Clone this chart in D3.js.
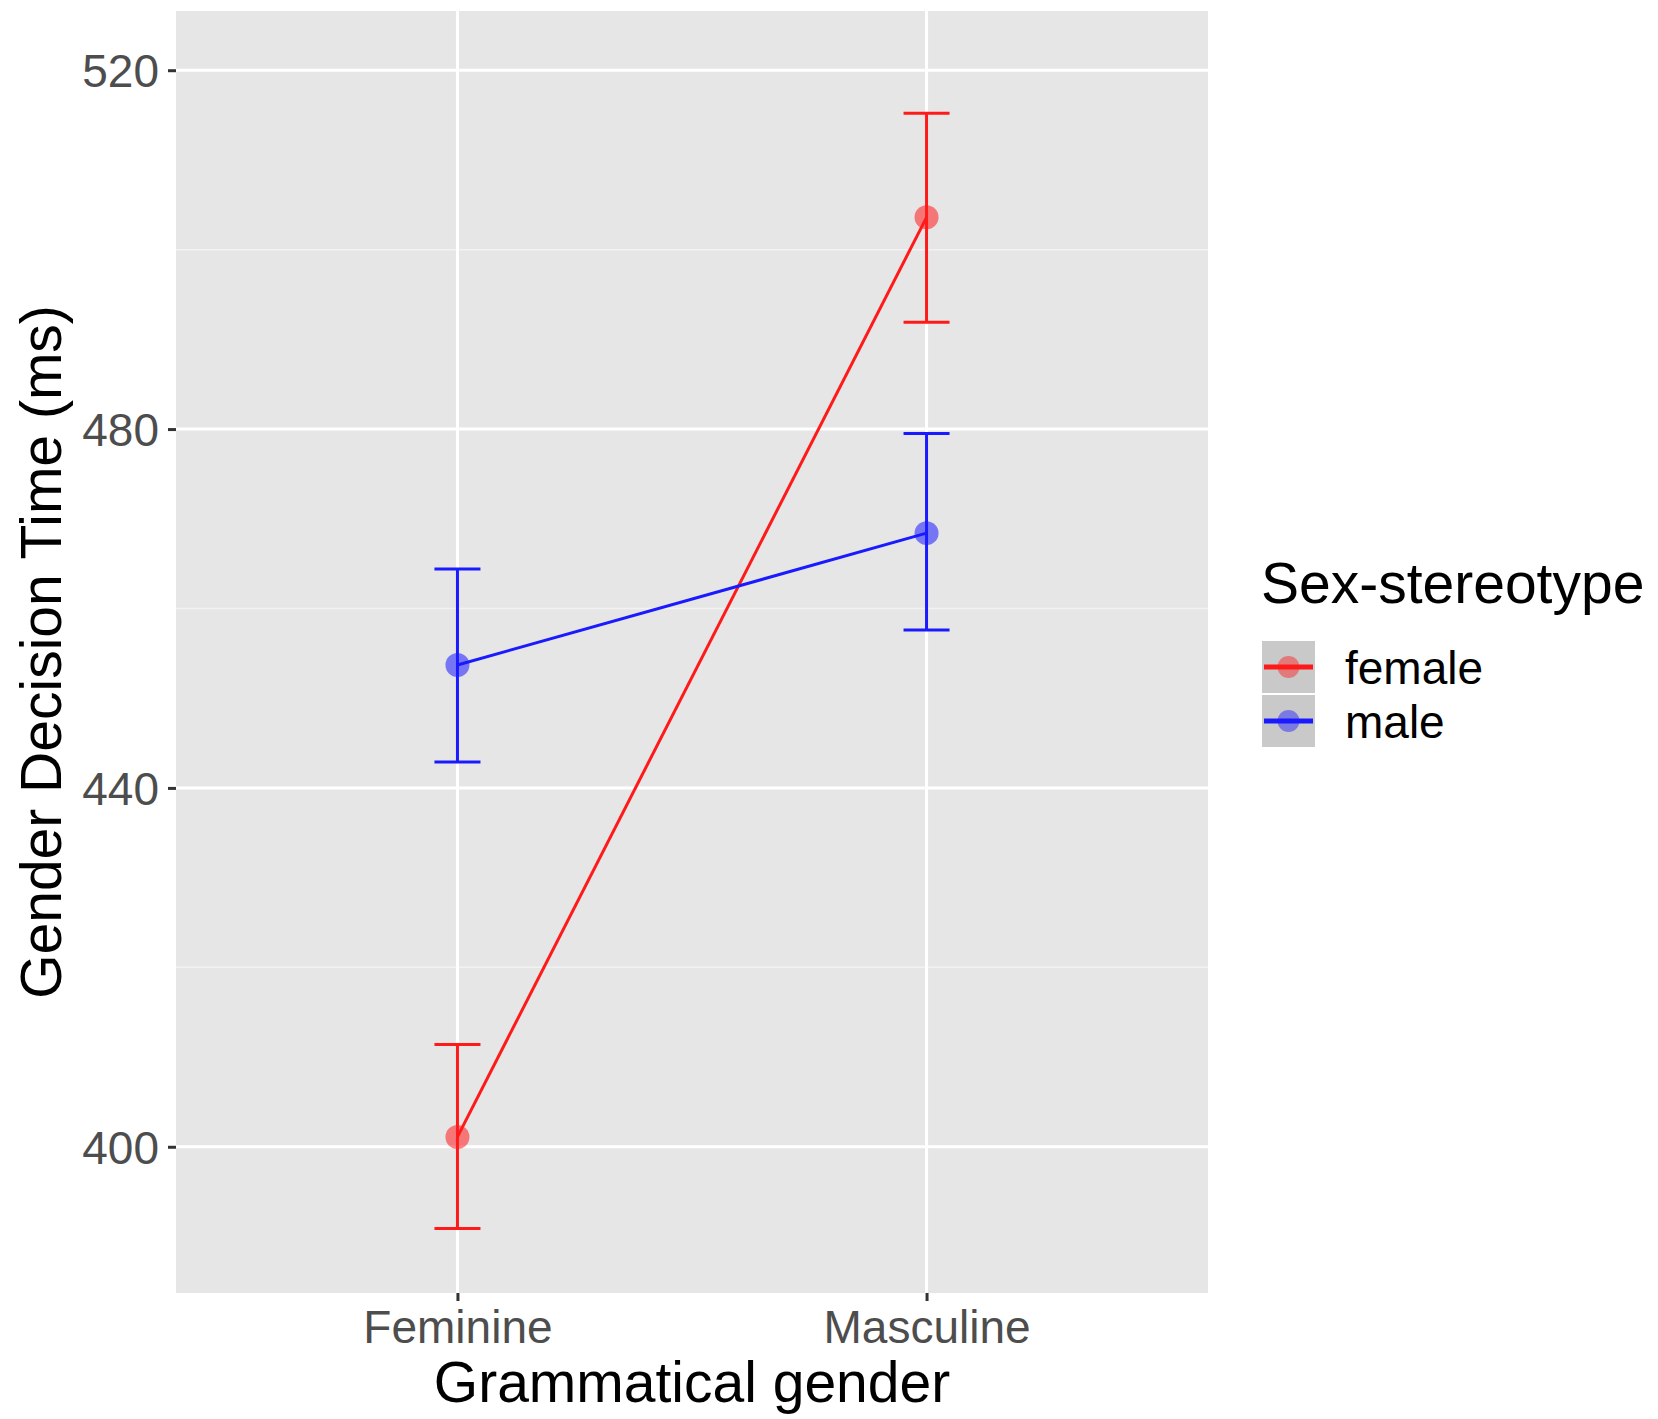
<!DOCTYPE html>
<html>
<head>
<meta charset="utf-8">
<script src="https://cdn.jsdelivr.net/npm/d3@7"></script>
<style>
  html, body { margin: 0; padding: 0; background: #fff; }
  svg { display: block; font-family: "Liberation Sans", Arial, Helvetica, sans-serif; }
</style>
</head>
<body>
<div id="chart"></div>
<script>
// Categories on the x axis
const categories = ["Feminine", "Masculine"];
// Legend groups
const groups = ["female", "male"];
const groupColors = ["#ff1a1a", "#1a1aff"];

// Means and error bar limits per group, in category order
const femaleMean = [401.1, 503.6];
const femaleLow = [390.9, 491.9];
const femaleHigh = [411.4, 515.2];
const maleMean = [453.7, 468.4];
const maleLow = [442.9, 457.6];
const maleHigh = [464.4, 479.5];

// Axis ticks
const yMajorTicks = [400, 440, 480, 520];
const yMinorTicks = [420, 460, 500];

const width = 1658, height = 1419;
const panel = { left: 176, right: 1208, top: 11, bottom: 1293 };

const series = [
  { name: groups[0], color: groupColors[0], mean: femaleMean, low: femaleLow, high: femaleHigh },
  { name: groups[1], color: groupColors[1], mean: maleMean, low: maleLow, high: maleHigh }
];

const svg = d3.select("#chart").append("svg")
  .attr("width", width)
  .attr("height", height);

svg.append("rect").attr("width", width).attr("height", height).attr("fill", "#fff");

// x: discrete scale, ggplot-like 0.6 padding
const x = d3.scalePoint()
  .domain(categories)
  .range([panel.left, panel.right])
  .padding(0.6);

const y = d3.scaleLinear()
  .domain([383.7, 526.6])
  .range([panel.bottom, panel.top]);

// Panel background
svg.append("rect")
  .attr("x", panel.left)
  .attr("y", panel.top)
  .attr("width", panel.right - panel.left)
  .attr("height", panel.bottom - panel.top)
  .attr("fill", "#e6e6e6");

// Minor gridlines
svg.append("g")
  .selectAll("line")
  .data(yMinorTicks)
  .enter().append("line")
  .attr("x1", panel.left).attr("x2", panel.right)
  .attr("y1", d => y(d)).attr("y2", d => y(d))
  .attr("stroke", "#f2f2f2")
  .attr("stroke-width", 1.5);

// Major gridlines
svg.append("g")
  .selectAll("line")
  .data(yMajorTicks)
  .enter().append("line")
  .attr("x1", panel.left).attr("x2", panel.right)
  .attr("y1", d => y(d)).attr("y2", d => y(d))
  .attr("stroke", "#fff")
  .attr("stroke-width", 3);

svg.append("g")
  .selectAll("line")
  .data(categories)
  .enter().append("line")
  .attr("x1", d => x(d)).attr("x2", d => x(d))
  .attr("y1", panel.top).attr("y2", panel.bottom)
  .attr("stroke", "#fff")
  .attr("stroke-width", 3);

// Axes
const yAxis = svg.append("g")
  .attr("transform", `translate(${panel.left},0)`)
  .call(d3.axisLeft(y).tickValues(yMajorTicks).tickSize(8).tickPadding(9));
yAxis.select(".domain").remove();
yAxis.selectAll("line").attr("stroke", "#333").attr("stroke-width", 3);
yAxis.selectAll("text")
  .attr("fill", "#4d4d4d")
  .style("font-size", "46px")
  .attr("dy", "0.36em");

const xAxis = svg.append("g")
  .attr("transform", `translate(0,${panel.bottom})`)
  .call(d3.axisBottom(x).tickSize(8).tickPadding(9));
xAxis.select(".domain").remove();
xAxis.selectAll("line").attr("stroke", "#333").attr("stroke-width", 3);
xAxis.selectAll("text")
  .attr("fill", "#4d4d4d")
  .style("font-size", "46px")
  .attr("dy", "0.72em");

// Axis titles
svg.append("text")
  .attr("x", (panel.left + panel.right) / 2)
  .attr("y", 1402)
  .attr("text-anchor", "middle")
  .style("font-size", "57px")
  .attr("fill", "#000")
  .text("Grammatical gender");

svg.append("text")
  .attr("transform", `translate(61,${(panel.top + panel.bottom) / 2}) rotate(-90)`)
  .attr("text-anchor", "middle")
  .style("font-size", "57px")
  .attr("fill", "#000")
  .text("Gender Decision Time (ms)");

// Data
const capHalf = 23;
const lw = 3;
const line = d3.line()
  .x((d, i) => x(categories[i]))
  .y(d => y(d));

series.forEach(s => {
  const g = svg.append("g");

  // error bars
  const eb = g.selectAll(".eb")
    .data(categories)
    .enter().append("g");
  eb.append("line")
    .attr("x1", d => x(d)).attr("x2", d => x(d))
    .attr("y1", (d, i) => y(s.low[i])).attr("y2", (d, i) => y(s.high[i]))
    .attr("stroke", s.color).attr("stroke-width", lw);
  eb.append("line")
    .attr("x1", d => x(d) - capHalf).attr("x2", d => x(d) + capHalf)
    .attr("y1", (d, i) => y(s.low[i])).attr("y2", (d, i) => y(s.low[i]))
    .attr("stroke", s.color).attr("stroke-width", lw);
  eb.append("line")
    .attr("x1", d => x(d) - capHalf).attr("x2", d => x(d) + capHalf)
    .attr("y1", (d, i) => y(s.high[i])).attr("y2", (d, i) => y(s.high[i]))
    .attr("stroke", s.color).attr("stroke-width", lw);

  // connecting line
  g.append("path")
    .datum(s.mean)
    .attr("d", line)
    .attr("fill", "none")
    .attr("stroke", s.color)
    .attr("stroke-width", lw);

  // points
  g.selectAll("circle")
    .data(s.mean)
    .enter().append("circle")
    .attr("cx", (d, i) => x(categories[i]))
    .attr("cy", d => y(d))
    .attr("r", 12)
    .attr("fill", s.color)
    .attr("fill-opacity", 0.55);
});

// Legend
const legend = svg.append("g").attr("transform", "translate(1261,0)");
legend.append("text")
  .attr("x", 0)
  .attr("y", 603)
  .style("font-size", "57px")
  .attr("fill", "#000")
  .text("Sex-stereotype");

const keyW = 55, keyH = 54, keyTop = 640;
const item = legend.selectAll(".item")
  .data(series)
  .enter().append("g")
  .attr("transform", (d, i) => `translate(0,${keyTop + i * keyH})`);
item.append("rect")
  .attr("width", keyW).attr("height", keyH)
  .attr("fill", "#c9c9c9")
  .attr("stroke", "#fff")
  .attr("stroke-width", 2);
item.append("line")
  .attr("x1", 3).attr("x2", keyW - 3)
  .attr("y1", keyH / 2).attr("y2", keyH / 2)
  .attr("stroke", d => d.color)
  .attr("stroke-width", 5);
item.append("circle")
  .attr("cx", keyW / 2).attr("cy", keyH / 2)
  .attr("r", 11)
  .attr("fill", d => d.color)
  .attr("fill-opacity", 0.45);
item.append("text")
  .attr("x", 84)
  .attr("y", keyH / 2)
  .attr("dy", "0.36em")
  .style("font-size", "46px")
  .attr("fill", "#000")
  .text(d => d.name);
</script>
</body>
</html>
